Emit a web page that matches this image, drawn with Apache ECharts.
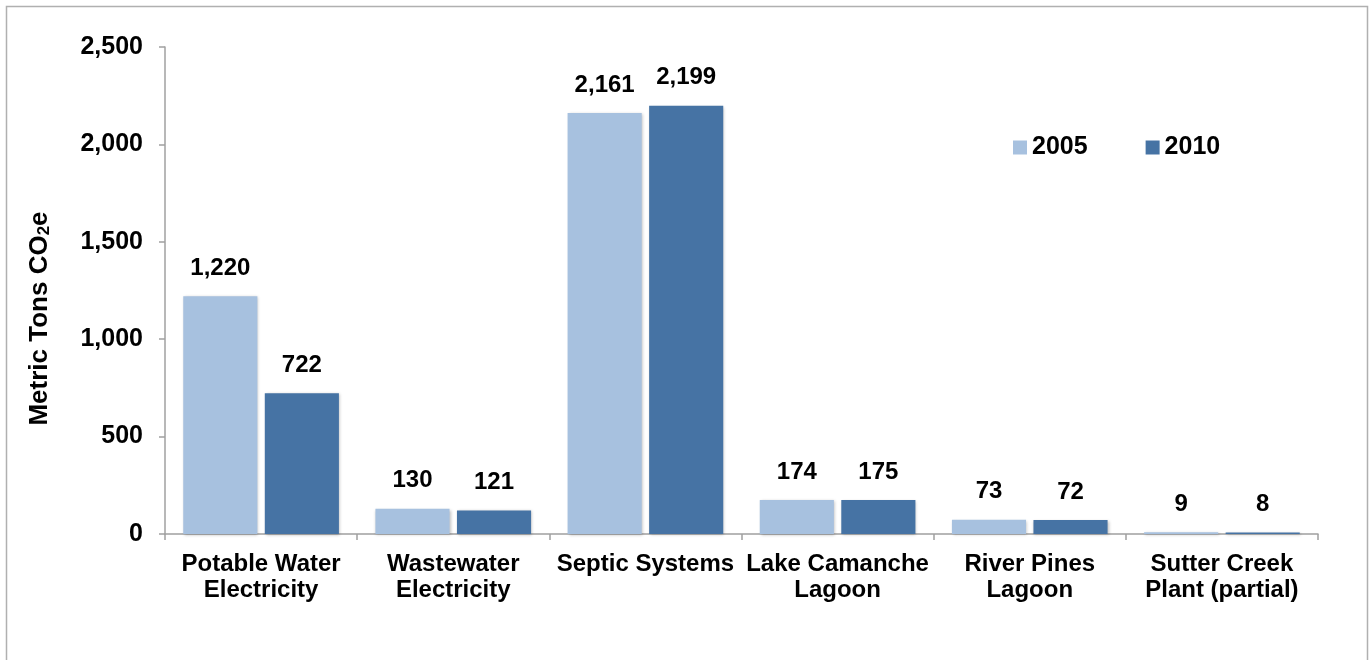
<!DOCTYPE html>
<html>
<head>
<meta charset="utf-8">
<script src="https://cdn.jsdelivr.net/npm/echarts@6/dist/echarts.min.js"></script>
<style>html,body{margin:0;padding:0;background:#fff}#c{width:1370px;height:660px}</style>
</head>
<body>
<div id="c"></div>
<script>
const categories = ["Potable Water\nElectricity", "Wastewater\nElectricity", "Septic Systems", "Lake Camanche\nLagoon", "River Pines\nLagoon", "Sutter Creek\nPlant (partial)"];
const seriesNames = ["2005", "2010"];
const values2005 = [1220, 130, 2161, 174, 73, 9];
const values2010 = [722, 121, 2199, 175, 72, 8];
const yTicks = [0, 500, 1000, 1500, 2000, 2500];

const FONT = "'Liberation Sans', Arial, sans-serif";
const chart = echarts.init(document.getElementById('c'), null, {renderer: 'canvas'});
const fmt = v => Number(v).toLocaleString('en-US');
const labelStyle = {show: true, position: 'top', distance: 16, color: '#000', fontWeight: 'bold', fontSize: 24, fontFamily: FONT, formatter: p => fmt(p.value)};
chart.setOption({
  animation: false,
  graphic: [{type: 'rect', shape: {x: 6.5, y: 6.5, width: 1361, height: 670}, style: {fill: 'none', stroke: '#b0b0b0', lineWidth: 1.5}, silent: true}],
  legend: {
    data: seriesNames, left: 1008, top: 130, itemWidth: 14, itemHeight: 14, itemGap: 58,
    textStyle: {fontWeight: 'bold', fontSize: 25, fontFamily: FONT, color: '#000'},
    icon: 'rect'
  },
  grid: {left: 165, right: 52, top: 47, bottom: 126, containLabel: false},
  xAxis: {
    type: 'category', data: categories,
    axisLine: {lineStyle: {color: '#a0a0a0', width: 1.5}},
    axisTick: {show: true, length: 6, lineStyle: {color: '#a0a0a0', width: 1.5}},
    axisLabel: {color: '#000', fontWeight: 'bold', fontSize: 24, fontFamily: FONT, margin: 17, lineHeight: 26, interval: 0}
  },
  yAxis: {
    type: 'value', min: yTicks[0], max: yTicks[yTicks.length-1], interval: 500,
    name: 'Metric Tons CO{sub|2}e', nameLocation: 'middle', nameGap: 112, nameRotate: 90,
    nameTextStyle: {color: '#000', fontWeight: 'bold', fontSize: 26, fontFamily: FONT, padding: [0, 56, 0, 0],
      rich: {sub: {fontSize: 17, fontWeight: 'bold', fontFamily: FONT, color: '#000', verticalAlign: 'bottom', padding: [10,0,0,0]}}},
    axisLine: {show: true, lineStyle: {color: '#a0a0a0', width: 1.5}},
    axisTick: {show: true, length: 6, lineStyle: {color: '#a0a0a0', width: 1.5}},
    splitLine: {show: false},
    axisLabel: {color: '#000', fontWeight: 'bold', fontSize: 25, fontFamily: FONT, margin: 22, formatter: v => fmt(v)}
  },
  series: [
    {name: seriesNames[0], type: 'bar', data: values2005, barGap: '10%', barCategoryGap: '19%',
     itemStyle: {color: '#A7C1DF', shadowColor: 'rgba(0,0,0,0.25)', shadowBlur: 3, shadowOffsetX: 1, shadowOffsetY: 1}, label: labelStyle},
    {name: seriesNames[1], type: 'bar', data: values2010,
     itemStyle: {color: '#4673A4', shadowColor: 'rgba(0,0,0,0.25)', shadowBlur: 3, shadowOffsetX: 1, shadowOffsetY: 1}, label: labelStyle}
  ]
});
</script>
</body>
</html>
